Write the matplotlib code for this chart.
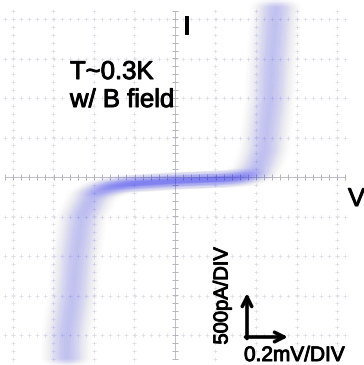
import numpy as np
import matplotlib
matplotlib.use("Agg")
import matplotlib.pyplot as plt
import matplotlib.patheffects as pe

plt.rcParams['font.family'] = ['Liberation Sans', 'DejaVu Sans']

# I-V trace, in divisions (0.2 mV/div, 500 pA/div)
volts = [-2.67, -2.67, -2.52, -2.44, -2.30, -2.02, -1.73, -1.23, 0.0, 1.23,
         1.73, 1.98, 2.10, 2.20, 2.27, 2.35, 2.40, 2.47, 2.49]
amps = [-4.58, -4.00, -3.01, -2.00, -1.01, -0.46, -0.28, -0.18, -0.10, -0.05,
        0.00, 0.13, 0.38, 0.68, 1.32, 1.97, 2.96, 3.97, 4.28]

grid_divs = [-4, -3, -2, -1, 1, 2, 3, 4]

W, H = 364, 365
fig = plt.figure(figsize=(W / 100, H / 100), dpi=100)
ax = fig.add_axes([0, 0, 1, 1])
px_x, px_y = 40.5, 39.5   # pixels per division
ax.set_xlim(-175 / px_x, (W - 175) / px_x)
ax.set_ylim((177 - H) / px_y, 177 / px_y)
ax.axis('off')

# dotted graticule
gcol = '#dcdce4'
ys = np.arange(-4.6, 4.3, 0.2)
xs = np.arange(-4.2, 4.25, 0.2)
for k in grid_divs:
    ax.plot(np.full_like(ys, k), ys, ls='none', marker='+', ms=2.5, mew=0.5, color=gcol)
    ax.plot(xs, np.full_like(xs, k), ls='none', marker='+', ms=2.5, mew=0.5, color=gcol)

# centre axes with minor ticks
acol = '#b4b4c0'
ax.plot([0, 0], [ys[0], ys[-1]], color=acol, lw=0.6)
ax.plot(np.zeros_like(ys), ys, ls='none', marker='_', ms=4, mew=0.7, color=acol)
ax.plot([xs[0], xs[-1]], [0, 0], color=acol, lw=0.6)
ax.plot(xs, np.zeros_like(xs), ls='none', marker='|', ms=4, mew=0.7, color=acol)

# fuzzy trace: smear horizontally (voltage noise) with soft edges
v = np.array(volts)
i = np.array(amps)
tcol = '#5a5af0'
for dv in np.linspace(-0.6, 0.6, 25):
    w = np.exp(-(dv / 0.32) ** 2)
    for lw, a in [(12, 0.018), (8, 0.03), (4, 0.04)]:
        ax.plot(v + dv, i, color=tcol, lw=lw, alpha=a * w,
                solid_capstyle='round', solid_joinstyle='round')

# labels
thick = [pe.withStroke(linewidth=0.7, foreground='black')]

def ft(x, y, s, **kw):
    fig.text(x / W, 1 - y / H, s, path_effects=thick, **kw)

ft(70, 79, 'T~0.3K', fontsize=18.5, va='baseline')
ft(70, 107, 'w/ B field', fontsize=18.5, va='baseline')
ft(183, 34, 'I', fontsize=18.5, va='baseline')
ft(348, 206, 'V', fontsize=18.5, va='baseline')
ft(222, 296, '500pA/DIV', fontsize=14.5, rotation=90, ha='center', va='center')
ft(244, 361, '0.2mV/DIV', fontsize=15, va='baseline')

arrow = dict(arrowstyle='->', lw=2.6, color='black', mutation_scale=17,
             shrinkA=0, shrinkB=0)
ax.annotate('', xy=(247 / W, 1 - 293 / H), xytext=(247 / W, 1 - 338.5 / H),
            xycoords='figure fraction', arrowprops=arrow)
ax.annotate('', xy=(288 / W, 1 - 337 / H), xytext=(245.5 / W, 1 - 337 / H),
            xycoords='figure fraction', arrowprops=arrow)

fig.savefig('out.png', dpi=100)
